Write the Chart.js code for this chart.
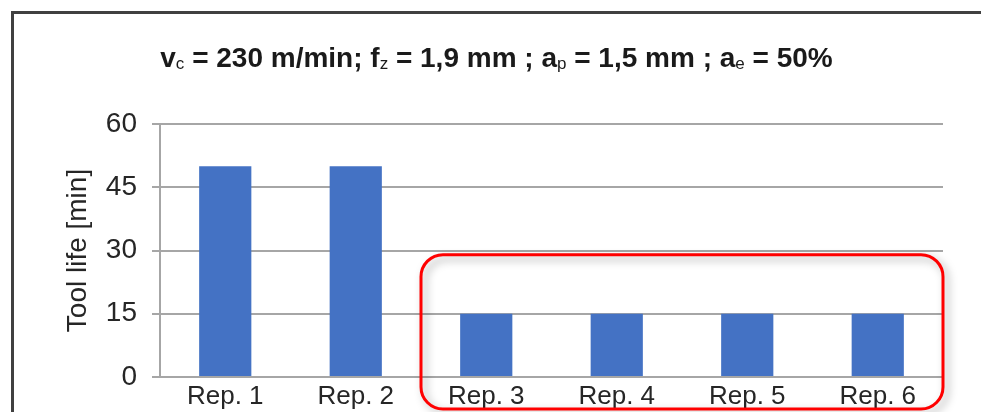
<!DOCTYPE html>
<html>
<head>
<meta charset="utf-8">
<script src="https://cdn.jsdelivr.net/npm/chart.js@4/dist/chart.umd.min.js"></script>
<style>
  html, body { margin: 0; padding: 0; background: #ffffff; }
  #wrap { width: 981px; height: 412px; position: relative; }
</style>
</head>
<body>
<div id="wrap"><canvas id="c" width="981" height="412"></canvas></div>
<script>
// ---- data ----
const categories = ["Rep. 1", "Rep. 2", "Rep. 3", "Rep. 4", "Rep. 5", "Rep. 6"];
const toolLife = [50, 50, 15, 15, 15, 15];
const yTicks = [0, 15, 30, 45, 60];
const yAxisTitle = "Tool life [min]";
// title pieces: [text, isSubscript]
const titleParts = [
  ["v", false], ["c", true], [" = 230 m/min; f", false], ["z", true],
  [" = 1,9 mm ; a", false], ["p", true], [" = 1,5 mm ; a", false], ["e", true],
  [" = 50%", false]
];
// highlighted group (Rep. 3 .. Rep. 6), upper value of the box
const highlightFromIndex = 2;
const highlightTopValue = 29;

const FONT = "'Liberation Sans', Arial, sans-serif";
const GRID = "#a6a6a6";

const framePlugin = {
  id: 'frame',
  beforeDraw(chart) {
    const ctx = chart.ctx;
    ctx.save();
    ctx.fillStyle = '#ffffff';
    ctx.fillRect(0, 0, chart.width, chart.height);
    ctx.strokeStyle = '#404040';
    ctx.lineWidth = 3;
    ctx.beginPath();
    ctx.moveTo(12.5, chart.height + 2);
    ctx.lineTo(12.5, 12.5);
    ctx.lineTo(chart.width + 2, 12.5);
    ctx.stroke();
    ctx.restore();
  }
};

const titlePlugin = {
  id: 'subTitle',
  afterDraw(chart) {
    const ctx = chart.ctx;
    ctx.save();
    const mainFont = "bold 28px " + FONT;
    const subFont = "17px " + FONT;
    let total = 0;
    const widths = titleParts.map(([t, sub]) => {
      ctx.font = sub ? subFont : mainFont;
      const w = ctx.measureText(t).width;
      total += w;
      return w;
    });
    let x = 496.5 - total / 2;
    const base = 67;
    ctx.fillStyle = '#1a1a1a';
    ctx.textBaseline = 'alphabetic';
    ctx.textAlign = 'left';
    titleParts.forEach(([t, sub], i) => {
      ctx.font = sub ? subFont : mainFont;
      ctx.fillText(t, x, sub ? base + 2 : base);
      x += widths[i];
    });
    ctx.restore();
  }
};

const boxPlugin = {
  id: 'highlightBox',
  afterDraw(chart) {
    const xs = chart.scales.x, ys = chart.scales.y;
    const left = (xs.getPixelForValue(highlightFromIndex - 1) + xs.getPixelForValue(highlightFromIndex)) / 2;
    const right = chart.chartArea.right;
    const top = ys.getPixelForValue(highlightTopValue);
    const bottom = chart.height - 3;
    const r = 22;
    const ctx = chart.ctx;
    ctx.save();
    ctx.strokeStyle = '#ff0000';
    ctx.lineWidth = 3;
    ctx.shadowColor = 'rgba(0,0,0,0.35)';
    ctx.shadowBlur = 9;
    ctx.shadowOffsetX = 4;
    ctx.shadowOffsetY = 4;
    ctx.beginPath();
    ctx.roundRect(left, top, right - left, bottom - top, r);
    ctx.stroke();
    ctx.restore();
  }
};

new Chart(document.getElementById('c'), {
  type: 'bar',
  data: {
    labels: categories,
    datasets: [{
      data: toolLife,
      backgroundColor: '#4472c4',
      borderWidth: 0,
      categoryPercentage: 1.0,
      barPercentage: 0.4
    }]
  },
  options: {
    responsive: false,
    animation: false,
    events: [],
    layout: { padding: { left: 0, right: 38, top: 124, bottom: 0 } },
    plugins: {
      legend: { display: false },
      tooltip: { enabled: false },
      title: { display: false }
    },
    scales: {
      x: {
        grid: { display: false, drawTicks: false },
        border: { display: false },
        ticks: {
          padding: 4,
          color: '#262626',
          font: { family: FONT, size: 26 },
          maxRotation: 0,
          autoSkip: false
        },
        afterFit(s) { s.height = 35; }
      },
      y: {
        min: 0,
        max: 60,
        afterBuildTicks(s) { s.ticks = yTicks.map(v => ({ value: v })); },
        grid: { color: GRID, lineWidth: 2, tickLength: 8, tickColor: GRID, drawTicks: true },
        border: { display: true, color: GRID, width: 2 },
        ticks: {
          padding: 15,
          color: '#262626',
          font: { family: FONT, size: 28 }
        },
        title: {
          display: true,
          text: yAxisTitle,
          color: '#262626',
          font: { family: FONT, size: 28 },
          padding: { top: 61, bottom: 0 }
        },
        afterFit(s) { s.width = 160; }
      }
    }
  },
  plugins: [framePlugin, titlePlugin, boxPlugin]
});
</script>
</body>
</html>
